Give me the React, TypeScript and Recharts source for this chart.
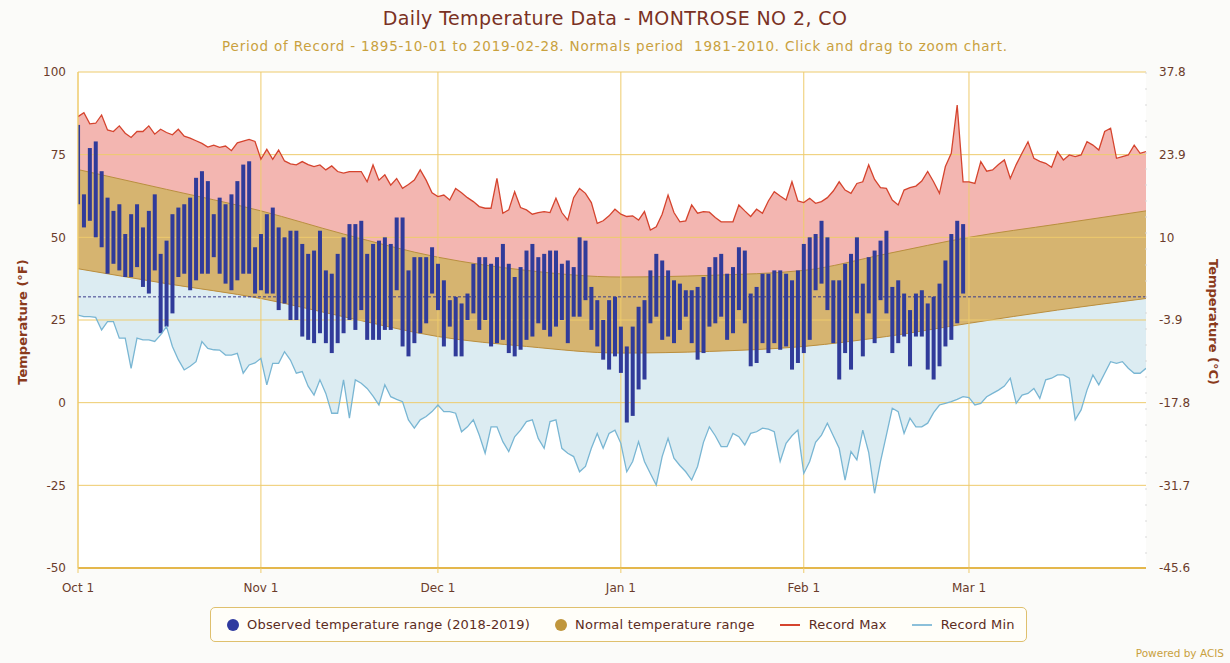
import React from 'react';
import { ComposedChart, Area, Line, Bar, XAxis, YAxis, ReferenceLine, CartesianGrid } from 'recharts';

// x axis: day index counted from Oct 1 (0) to Mar 31 (181)
const MONTH_TICKS = [0, 31, 61, 92, 123, 151];
const MONTH_LABELS = ['Oct 1', 'Nov 1', 'Dec 1', 'Jan 1', 'Feb 1', 'Mar 1'];
const F_TICKS = [-50, -25, 0, 25, 50, 75, 100];
const C_LABELS = ['-45.6', '-31.7', '-17.8', '-3.9', '10', '23.9', '37.8'];

// observed 2018-2019 daily highs / lows (Oct 1 .. Feb 28)
const OBS_HIGH = [
  84, 63, 77, 79, 70, 62, 58, 60, 51, 57, 60, 53, 58, 63, 45, 49, 57, 59, 60, 62,
  68, 70, 67, 57, 62, 60, 63, 67, 72, 73, 47, 51, 57, 59, 53, 50, 52, 52, 48, 45,
  46, 52, 40, 39, 45, 50, 54, 54, 55, 45, 48, 49, 50, 48, 56, 56, 40, 44, 44, 44,
  47, 42, 37, 31, 32, 30, 33, 42, 44, 44, 42, 44, 48, 42, 38, 41, 46, 48, 44, 45,
  46, 46, 42, 43, 41, 50, 49, 35, 31, 25, 31, 32, 23, 17, 23, 29, 31, 40, 45, 43,
  40, 37, 36, 34, 34, 35, 38, 41, 44, 45, 39, 41, 47, 46, 33, 35, 39, 39, 40, 40,
  39, 37, 40, 48, 50, 51, 55, 50, 37, 37, 42, 45, 50, 36, 44, 46, 49, 52, 35, 37,
  33, 28, 33, 34, 30, 32, 36, 43, 51, 55, 54,
];
const OBS_LOW = [
  60, 53, 55, 50, 47, 39, 42, 40, 38, 38, 41, 35, 33, 40, 21, 23, 27, 38, 39, 34,
  37, 39, 39, 44, 39, 36, 34, 37, 39, 39, 33, 34, 33, 33, 28, 30, 25, 25, 20, 19,
  18, 21, 18, 15, 18, 21, 25, 22, 28, 19, 19, 19, 22, 22, 34, 17, 14, 18, 21, 24,
  33, 28, 17, 23, 14, 14, 25, 27, 22, 25, 17, 18, 19, 15, 14, 16, 19, 20, 24, 22,
  20, 23, 25, 18, 26, 26, 31, 22, 17, 13, 10, 14, 9, -6, -4, 4, 7, 24, 26, 19,
  20, 18, 22, 26, 18, 13, 15, 23, 24, 26, 19, 21, 28, 24, 11, 12, 18, 15, 18, 16,
  17, 10, 12, 15, 19, 34, 36, 28, 18, 7, 15, 10, 27, 14, 27, 18, 31, 27, 15, 18,
  20, 11, 20, 20, 10, 7, 11, 17, 19, 24, 33,
];

// period-of-record extremes for every day Oct 1 .. Mar 31
const RECORD_MAX = [
  86.5, 87.7, 84.3, 84.5, 87, 82.5, 82, 83.7, 81.5, 80.2, 82, 82, 83.7, 81.2, 82.7, 81.7, 81, 82.7, 80.6, 80,
  79.2, 78.4, 77.3, 77.9, 77.2, 77.6, 76.2, 78.6, 79.1, 79.6, 79, 73.6, 76.6, 73.6, 76.4, 73.1, 72.2, 71.9, 72.9, 72,
  71.4, 71.9, 70.4, 71.6, 69.9, 69.4, 69.9, 69.9, 69.9, 66.8, 71.9, 67.3, 68.9, 65.8, 67.8, 64.8, 66, 67.3, 70.4, 67.3,
  63.5, 62.3, 62.8, 61.3, 64.8, 63.5, 62, 60.8, 59.3, 58.8, 58.8, 67.8, 57.3, 58.3, 63.8, 59, 58.3, 57, 57.5, 57.8,
  57.5, 61.8, 57.5, 55.2, 62, 64.8, 63.3, 60.5, 54.2, 55, 56.5, 58.5, 57, 56.3, 56.5, 55.2, 57.8, 52.2, 53.2, 57,
  62.8, 57.5, 54.7, 55, 59.8, 57.3, 57.8, 57.6, 56, 54.7, 54.7, 54.7, 59.8, 58, 56.3, 58.5, 57.3, 61, 63.8, 62.5,
  61.3, 66.8, 61, 60.5, 61.8, 60.3, 60.8, 62, 64, 66.8, 64.3, 63.3, 66.3, 66.8, 71.9, 67.5, 65, 64.8, 61.3, 59.8,
  64.3, 65, 65.5, 67, 69.9, 66.8, 63.3, 71.4, 75.4, 90, 66.8, 66.8, 66.3, 72.9, 70, 70.4, 72, 73.4, 67.8, 72,
  75.5, 78.9, 73.9, 73, 72.4, 71.2, 75.9, 73.4, 74.9, 74.4, 74.9, 78.9, 77.9, 76.4, 82, 83, 73.9, 74.4, 74.9, 77.9,
  75.4, 75.9,
];
const RECORD_MIN = [
  26.5, 26, 26, 25.8, 22, 24.5, 24.5, 19.5, 19.5, 10.4, 19.5, 19, 19, 18.5, 20.5, 23, 17, 13, 9.9, 11,
  12.4, 18.5, 16.4, 16, 15.9, 14.4, 14.4, 14.9, 8.9, 11.4, 12, 13.4, 5.4, 11.9, 11.9, 15.4, 12.9, 8.9, 9.4, 5,
  2.3, 6.9, 2.8, -3.2, -3.2, 6.9, -4.7, 6.9, 5.9, 4.3, 2, -0.7, 5.4, 1.8, 1, 0.3, -5.2, -7.7, -5.2, -4.2,
  -2.7, -0.7, -2.7, -2.7, -3.2, -8.8, -7.3, -5.2, -9.8, -15.3, -7.3, -7.3, -11.8, -14.8, -10.3, -8.3, -5.7, -5.2, -10.8, -13.8,
  -5.7, -5.2, -13.8, -15.3, -16.3, -20.9, -19.3, -13.8, -9.3, -13.8, -9.3, -8.3, -12.3, -20.9, -17.8, -11.8, -17.8, -21.4, -24.9, -16.3,
  -10.8, -16.8, -19, -20.9, -23.4, -19.3, -12, -7.3, -10, -13.3, -13.3, -9.3, -10.3, -12.8, -9.3, -8.8, -7.7, -8, -8.8, -17.8,
  -12.3, -10, -8.3, -21.4, -17.8, -12, -9.8, -6.2, -10, -13.8, -23.4, -14.8, -17.3, -8.3, -15, -27.4, -17.8, -9.8, -1.7, -2.7,
  -9.3, -4.7, -7.3, -7.3, -6.2, -3, -0.7, -0.2, 0.3, 1, 1.8, 1.5, -0.7, -0.2, 1.8, 2.8, 3.8, 5, 7.4, -0.2,
  2.3, 2.8, 4.3, 1.3, 6.9, 7.4, 8.4, 8.4, 7.4, -5.2, -2.2, 3.8, 8.4, 5.4, 8.9, 12.4, 11.9, 12.4, 10.4, 8.9,
  8.9, 10.4,
];

// 1981-2010 normals, read at the 1st and 16th of each month
const NORMAL_DAYS = [0, 15, 31, 45, 61, 76, 92, 107, 123, 137, 151, 166, 181];
const NORMAL_MIN = [40.5, 36, 31.5, 26, 20, 17, 15, 15.5, 17, 20, 24, 28, 31.5];
const NORMAL_MAX = [70.5, 64.5, 58, 51, 44, 40, 38, 38.5, 40, 45, 50, 54, 58];

const FONT = '"DejaVu Sans", "Open Sans", sans-serif';
const GOLD = '#eecb6c';

const rows = RECORD_MAX.map((mx, day) => ({
  day,
  recMax: mx,
  recMin: RECORD_MIN[day],
  obs: day < OBS_HIGH.length ? [OBS_LOW[day], OBS_HIGH[day]] : null,
}));

const normals = NORMAL_DAYS.map((day, i) => ({
  day,
  lo: NORMAL_MIN[i],
  band: [NORMAL_MIN[i], NORMAL_MAX[i]],
}));

function ObsBar(props: any) {
  const { x, y, width, height, payload } = props;
  if (!payload || !payload.obs || !isFinite(y) || !isFinite(height)) return <g />;
  return <rect x={x} y={Math.min(y, y + height)} width={width} height={Math.abs(height)} fill="#303b9a" />;
}

function LegendItem({ mark, label, gap }: { mark: React.ReactNode; label: string; gap: number }) {
  return (
    <div style={{ display: 'flex', alignItems: 'center', gap }}>
      {mark}
      <span>{label}</span>
    </div>
  );
}

export default function App() {
  const dot = (c: string) => <div style={{ width: 12, height: 12, borderRadius: 6, background: c }} />;
  const dash = (c: string) => <div style={{ width: 20, height: 2, background: c }} />;

  return (
    <div style={{ position: 'absolute', left: 0, top: 0, width: 1230, height: 663, background: '#fbfbf9', fontFamily: FONT }}>
      <div style={{ position: 'absolute', top: 7, width: 1230, textAlign: 'center', fontSize: 19, letterSpacing: 0.4, color: '#7a3124' }}>
        Daily Temperature Data - MONTROSE NO 2, CO
      </div>
      <div style={{ position: 'absolute', top: 38, width: 1230, textAlign: 'center', fontSize: 13.5, letterSpacing: 0.8, color: '#c9a13e' }}>
        Period of Record - 1895-10-01 to 2019-02-28. Normals period&nbsp; 1981-2010. Click and drag to zoom chart.
      </div>

      <ComposedChart
        width={1230}
        height={663}
        data={rows}
        margin={{ top: 72, right: 34, bottom: 70, left: 33 }}
      >
        <CartesianGrid horizontal={false} vertical={false} fill="#ffffff" />
        <XAxis
          type="number"
          dataKey="day"
          domain={[0, 181]}
          ticks={MONTH_TICKS}
          tickFormatter={(v: number) => MONTH_LABELS[MONTH_TICKS.indexOf(v)]}
          allowDataOverflow
          height={25}
          tick={{ fill: '#6b3b2b', fontSize: 12, fontFamily: FONT }}
          tickLine={{ stroke: GOLD }}
          tickSize={5}
          tickMargin={10}
          axisLine={{ stroke: '#e4b74c', strokeWidth: 2 }}
        />
        <YAxis
          yAxisId="l"
          width={45}
          domain={[-50, 100]}
          ticks={F_TICKS}
          allowDataOverflow
          tick={{ fill: '#6b3b2b', fontSize: 12, fontFamily: FONT }}
          tickLine={false}
          tickMargin={6}
          axisLine={{ stroke: GOLD }}
        />
        <YAxis
          yAxisId="r"
          orientation="right"
          width={50}
          domain={[-50, 100]}
          ticks={F_TICKS}
          allowDataOverflow
          tickFormatter={(v: number) => C_LABELS[F_TICKS.indexOf(v)]}
          tick={{ fill: '#6b3b2b', fontSize: 12, fontFamily: FONT }}
          tickLine={false}
          tickMargin={7}
          axisLine={{ stroke: '#d9d9d9', strokeDasharray: '2 14' }}
        />

        <Area yAxisId="l" dataKey="recMax" type="linear" baseValue={-50} fill="#f3b6b1" fillOpacity={1} stroke="none" isAnimationActive={false} />
        <Area yAxisId="l" data={normals} dataKey="lo" type="monotone" baseValue={-50} fill="#dcecf2" fillOpacity={1} stroke="none" isAnimationActive={false} />
        <Area yAxisId="l" dataKey="recMin" type="linear" baseValue={-50} fill="#ffffff" fillOpacity={1} stroke="none" isAnimationActive={false} />
        <Area yAxisId="l" data={normals} dataKey="band" type="monotone" fill="#d6b470" fillOpacity={1} stroke="#b98f3e" strokeWidth={1} isAnimationActive={false} />

        {F_TICKS.slice(1).map((t) => (
          <ReferenceLine key={'h' + t} yAxisId="l" y={t} stroke={GOLD} strokeWidth={1} zIndex={150} />
        ))}
        {MONTH_TICKS.map((t) => (
          <ReferenceLine key={'v' + t} yAxisId="l" x={t} stroke={GOLD} strokeWidth={1} zIndex={150} />
        ))}
        <ReferenceLine yAxisId="l" y={32} stroke="#3b3b8c" strokeDasharray="3 2" strokeWidth={1} zIndex={150} />

        <Bar yAxisId="l" dataKey="obs" barSize={4} shape={ObsBar} isAnimationActive={false} />
        <Line yAxisId="l" dataKey="recMax" type="linear" stroke="#d5442e" strokeWidth={1.3} dot={false} activeDot={false} isAnimationActive={false} />
        <Line yAxisId="l" dataKey="recMin" type="linear" stroke="#79b6d3" strokeWidth={1.3} dot={false} activeDot={false} isAnimationActive={false} />
      </ComposedChart>

      <div style={{ position: 'absolute', left: 22, top: 322, transform: 'translate(-50%, -50%) rotate(-90deg)', whiteSpace: 'nowrap', fontSize: 13, fontWeight: 700, color: '#8a3a1c' }}>
        Temperature (°F)
      </div>
      <div style={{ position: 'absolute', left: 1213, top: 322, transform: 'translate(-50%, -50%) rotate(90deg)', whiteSpace: 'nowrap', fontSize: 13, fontWeight: 700, color: '#8a3a1c' }}>
        Temperature (°C)
      </div>

      <div
        style={{
          position: 'absolute', left: 210, top: 607, width: 817, height: 35, boxSizing: 'border-box',
          border: '1px solid #dfc06e', borderRadius: 5, background: '#fffef9',
          display: 'flex', alignItems: 'center', paddingLeft: 16, gap: 25, fontSize: 13, letterSpacing: 0.2, color: '#5c2c1e',
        }}
      >
        <LegendItem gap={8} mark={dot('#2f3a9f')} label="Observed temperature range (2018-2019)" />
        <LegendItem gap={8} mark={dot('#c0963c')} label="Normal temperature range" />
        <LegendItem gap={9} mark={dash('#d5442e')} label="Record Max" />
        <LegendItem gap={9} mark={dash('#8cc0da')} label="Record Min" />
      </div>
      <div style={{ position: 'absolute', right: 6, top: 647, fontSize: 10.5, color: '#c9a13e' }}>Powered by ACIS</div>
    </div>
  );
}
